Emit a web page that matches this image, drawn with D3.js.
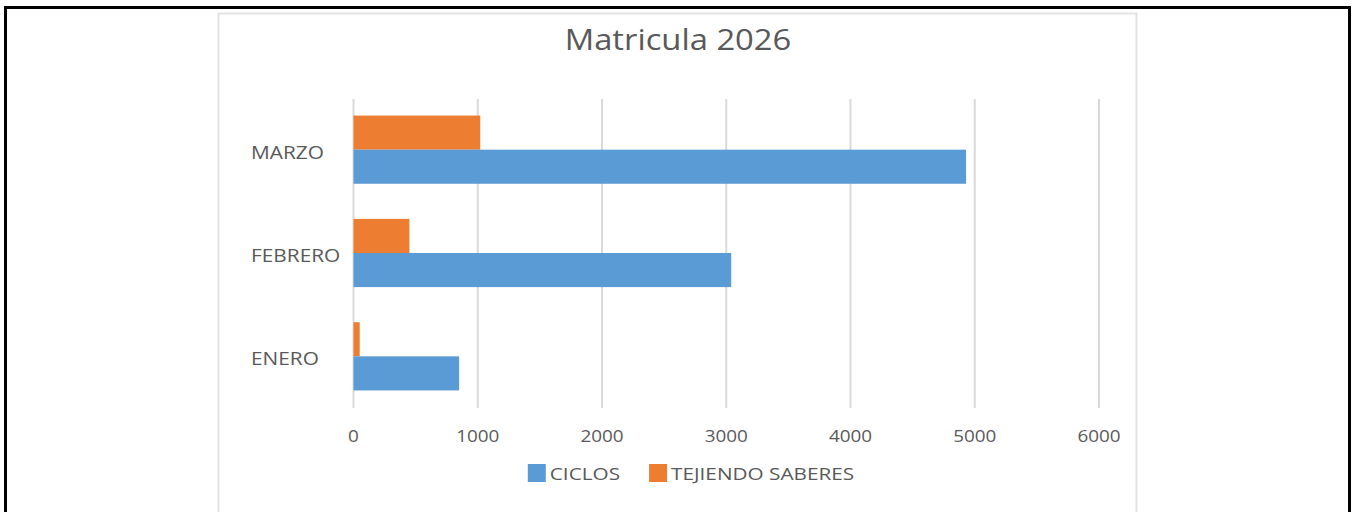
<!DOCTYPE html>
<html><head><meta charset="utf-8">
<script src="https://cdn.jsdelivr.net/npm/d3@7"></script>
<style>
html,body{margin:0;padding:0;background:#fff;}
svg{display:block;font-family:"Open Sans",sans-serif;}
</style></head>
<body><svg id="c" width="1352" height="512"></svg>
<script>
const title = "Matricula 2026";
const categories = ["MARZO","FEBRERO","ENERO"];
const seriesNames = ["TEJIENDO SABERES","CICLOS"];
const tejiendo = [1020, 450, 50];
const ciclos = [4930, 3040, 850];
const xTicks = [0,1000,2000,3000,4000,5000,6000];
const colors = {"CICLOS":"#5b9bd5","TEJIENDO SABERES":"#ed7d31"};
const legendOrder = ["CICLOS","TEJIENDO SABERES"];

const svg = d3.select("#c");
function stretch(sel, f){
  sel.each(function(){
    const l = this.getComputedTextLength();
    d3.select(this).attr("textLength", l*f).attr("lengthAdjust","spacingAndGlyphs");
  });
}

// outer black frame
svg.append("rect").attr("x",5.5).attr("y",7.5).attr("width",1344).attr("height",530)
  .attr("fill","none").attr("stroke","#000").attr("stroke-width",3);
// chart area
svg.append("rect").attr("x",218.5).attr("y",13.5).attr("width",918).attr("height",520)
  .attr("fill","#fff").attr("stroke","#e3e3e3").attr("stroke-width",2);

const x = d3.scaleLinear().domain([0,6000]).range([353.5,1099]);
const y = d3.scaleBand().domain(categories).range([98,408]).paddingInner(0.34).paddingOuter(0.17);
const ySub = d3.scaleBand().domain(seriesNames).range([0,y.bandwidth()]);

// gridlines
svg.append("g").selectAll("line").data(xTicks).join("line")
  .attr("x1",d=>x(d)).attr("x2",d=>x(d)).attr("y1",99).attr("y2",408)
  .attr("stroke","#d9d9d9").attr("stroke-width",2);

// x tick labels
const xt = svg.append("g").selectAll("text").data(xTicks).join("text")
  .attr("x",d=>x(d)).attr("y",442).attr("text-anchor","middle")
  .attr("font-size",17).attr("fill","#595959").text(d=>d);
stretch(xt, 1.11);

// bars
const data = categories.map((c,i)=>({cat:c, vals:{"TEJIENDO SABERES":tejiendo[i],"CICLOS":ciclos[i]}}));
const g = svg.append("g");
data.forEach(d=>{
  seriesNames.forEach(s=>{
    g.append("rect").attr("x",x(0)).attr("y",y(d.cat)+ySub(s))
      .attr("width",x(d.vals[s])-x(0)).attr("height",ySub.bandwidth())
      .attr("fill",colors[s]);
  });
});

// category labels
const cl = svg.append("g").selectAll("text").data(categories).join("text")
  .attr("x",251).attr("y",d=>y(d)+y.bandwidth()/2+9)
  .attr("font-size",17.5).attr("fill","#595959").text(d=>d);
stretch(cl, 1.19);

// title
const tt = svg.append("text").attr("x",678).attr("y",50).attr("text-anchor","middle")
  .attr("font-size",29.5).attr("fill","#595959").text(title);
stretch(tt, 1.11);

// legend
const lg = svg.append("g");
let cx = 0;
legendOrder.forEach((s,i)=>{
  const it = lg.append("g");
  it.append("rect").attr("x",cx).attr("y",-9).attr("width",18).attr("height",18).attr("fill",colors[s]);
  const t = it.append("text").attr("x",cx+22).attr("y",7).attr("font-size",17).attr("fill","#595959").text(s);
  stretch(t, 1.22);
  const w = +t.attr("textLength");
  cx += 22 + w + 29;
});
const total = cx - 29;
lg.attr("transform",`translate(${691 - total/2},473)`);
</script></body></html>
